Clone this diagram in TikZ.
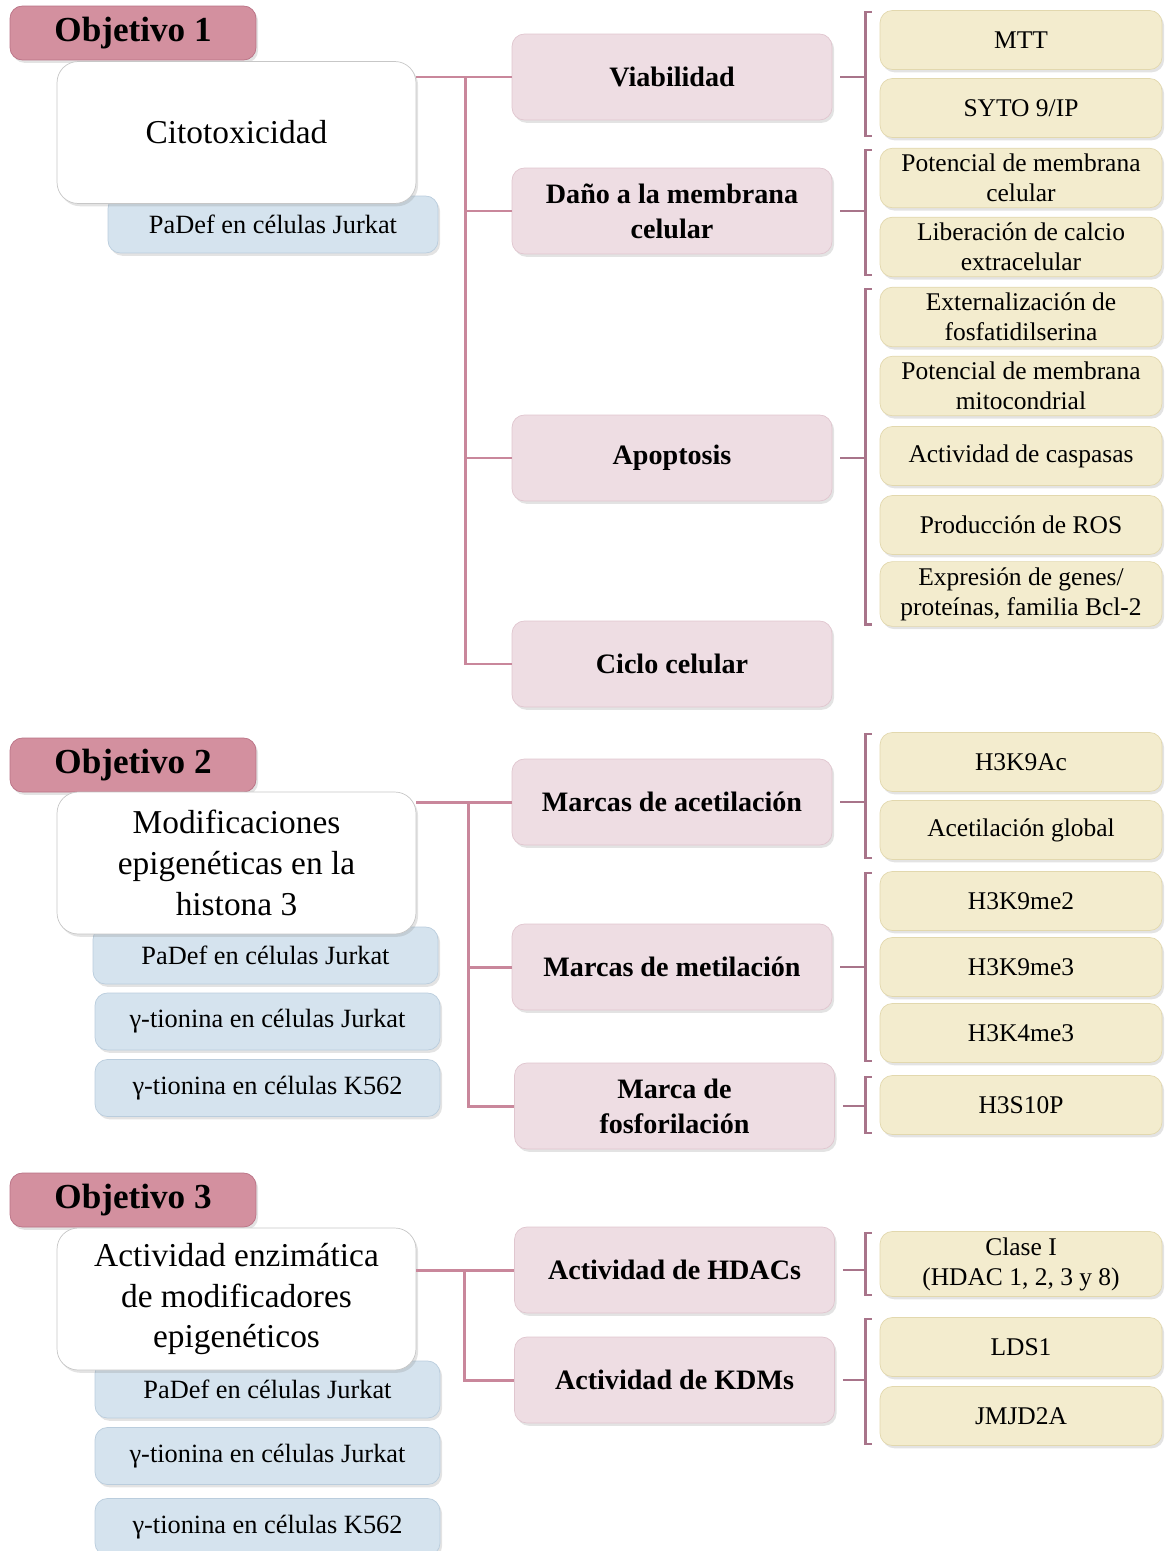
\documentclass[tikz,border=0pt]{standalone}
\usepackage{fontspec}
\setmainfont{Liberation Serif}
\usepackage{tikz}
\usetikzlibrary{calc, positioning, shadows}
\definecolor{OBJ}{HTML}{D3909F}
\definecolor{OBJB}{HTML}{B97285}
\definecolor{MET}{HTML}{EEDDE3}
\definecolor{METB}{HTML}{E0C6CF}
\definecolor{ENS}{HTML}{F3ECCE}
\definecolor{ENSB}{HTML}{E2D8AE}
\definecolor{MOD}{HTML}{D5E3EE}
\definecolor{MODB}{HTML}{BACDDD}
\definecolor{LNK}{HTML}{C9879B}
\definecolor{BRK}{HTML}{A8748A}
\tikzset{
  base/.style={% common look of every box
      rectangle, rounded corners=7pt,
      align=center,
      drop shadow={shadow xshift=1.2pt, shadow yshift=-1.6pt, opacity=0.22},
  },
  OBJ/.style={% Style for the objective labels
      base, fill=OBJ, draw=OBJB,
      minimum width=4.92cm, minimum height=1.08cm,
      font=\fontsize{20}{24}\selectfont\bfseries,
  },
  CEN/.style={% Style for the white main boxes
      base, rounded corners=12pt, fill=white, draw=black!22,
      minimum width=7.18cm, minimum height=2.84cm,
      font=\fontsize{19}{23.3}\selectfont,
  },
  MOD/.style={% Style for the model boxes (blue)
      base, fill=MOD, draw=MODB,
      minimum width=6.9cm, minimum height=1.14cm,
      font=\fontsize{15}{18}\selectfont,
  },
  MET/.style={% Style for the second level (pink)
      base, fill=MET, draw=METB,
      minimum width=6.4cm, minimum height=1.72cm,
      font=\fontsize{16}{20}\selectfont\bfseries,
  },
  ENS/.style={% Style for the assays (cream)
      base, fill=ENS, draw=ENSB,
      minimum width=5.64cm, minimum height=1.18cm,
      font=\fontsize{14.5}{17}\selectfont,
  },
  LNK/.style={draw=LNK, line width=1.7pt},
  BRK/.style={draw=BRK, line width=1.5pt},
}
\def\grupo#1#2#3{% parent box, first and last assay of its bracket
  \draw[BRK] ($(#1.east)+(8,0)$) -- ($(#1.east -| #2.west)+(-14,0)$);
  \draw[BRK] ($(#2.north west)+(-8,2)$) -- ($(#2.north west)+(-14,2)$)
    -- ($(#3.south west)+(-14,-2)$) -- ($(#3.south west)+(-8,-2)$);
}

\begin{document}
\begin{tikzpicture}[x=0.02cm, y=-0.02cm]
\useasboundingbox (0,0) rectangle (1164,1551);

% Objetivo 1
\node[OBJ] (obj1) at (133,33) {Objetivo 1};
\node[MOD, minimum width=6.6cm] (padef1) at (273,224.5) {PaDef en células Jurkat};
\node[CEN] (cito) at (236.5,132.5) {Citotoxicidad};
\node[MET] (viab) at (672,77) {Viabilidad};
\node[MET] (dano) at (672,211) {Daño a la membrana\\celular};
\node[MET] (apop) at (672,458) {Apoptosis};
\node[MET] (ciclo) at (672,664) {Ciclo celular};
\node[ENS] (mtt) at (1021,40) {MTT};
\node[ENS] (syto) at (1021,108) {SYTO 9/IP};
\node[ENS] (pmc) at (1021,178) {Potencial de membrana\\celular};
\node[ENS] (calc) at (1021,247) {Liberación de calcio\\extracelular};
\node[ENS] (fos) at (1021,317) {Externalización de\\fosfatidilserina};
\node[ENS] (pmm) at (1021,386) {Potencial de membrana\\mitocondrial};
\node[ENS] (casp) at (1021,456) {Actividad de caspasas};
\node[ENS] (ros) at (1021,525) {Producción de ROS};
\node[ENS, minimum height=1.22cm] (bcl) at (1021,594) {Expresión de genes/\\proteínas, familia Bcl-2};

\draw[LNK] (cito.east |- viab.west) -- (viab.west);
\coordinate (t1) at ($(cito.east |- viab.west)+(49,0)$);
\foreach \n in {dano,apop,ciclo} \draw[LNK] (t1) |- (\n.west);
\grupo{viab}{mtt}{syto}
\grupo{dano}{pmc}{calc}
\grupo{apop}{fos}{bcl}

% Objetivo 2
\node[OBJ] (obj2) at (133,765) {Objetivo 2};
\node[MOD] (padef2) at (265.5,955.5) {PaDef en células Jurkat};
\node[MOD] (gjur2) at (267.5,1021.5) {γ-tionina en células Jurkat};
\node[MOD] (gk2) at (267.5,1088) {γ-tionina en células K562};
\node[CEN] (modif) at (236.5,863) {Modificaciones\\epigenéticas en la\\histona 3};
\node[MET] (acet) at (672,802) {Marcas de acetilación};
\node[MET] (meti) at (672,967) {Marcas de metilación};
\node[MET] (fosf) at (674.5,1106) {Marca de\\fosforilación};
\node[ENS] (k9ac) at (1021,762) {H3K9Ac};
\node[ENS] (acglob) at (1021,830) {Acetilación global};
\node[ENS] (k9me2) at (1021,901) {H3K9me2};
\node[ENS] (k9me3) at (1021,967) {H3K9me3};
\node[ENS] (k4me3) at (1021,1033) {H3K4me3};
\node[ENS] (s10p) at (1021,1105) {H3S10P};

\draw[LNK] (modif.east |- acet.west) -- (acet.west);
\coordinate (t2) at ($(modif.east |- acet.west)+(52,0)$);
\foreach \n in {meti,fosf} \draw[LNK] (t2) |- (\n.west);
\grupo{acet}{k9ac}{acglob}
\grupo{meti}{k9me2}{k4me3}
\grupo{fosf}{s10p}{s10p}

% Objetivo 3
\node[OBJ] (obj3) at (133,1200) {Objetivo 3};
\node[MOD] (padef3) at (267.5,1389.5) {PaDef en células Jurkat};
\node[MOD] (gjur3) at (267.5,1456) {γ-tionina en células Jurkat};
\node[MOD] (gk3) at (267.5,1527) {γ-tionina en células K562};
\node[CEN] (enz) at (236.5,1299) {Actividad enzimática\\de modificadores\\epigenéticos};
\node[MET] (hdac) at (674.5,1270) {Actividad de HDACs};
\node[MET] (kdm) at (674.5,1380) {Actividad de KDMs};
\node[ENS, minimum height=1.3cm] (clase) at (1021,1264) {Clase I\\(HDAC 1, 2, 3 y 8)};
\node[ENS] (lds) at (1021,1347) {LDS1};
\node[ENS] (jmjd) at (1021,1416) {JMJD2A};

\draw[LNK] (enz.east |- hdac.west) -- (hdac.west);
\coordinate (t3) at ($(enz.east |- hdac.west)+(48,0)$);
\draw[LNK] (t3) |- (kdm.west);
\grupo{hdac}{clase}{clase}
\grupo{kdm}{lds}{jmjd}
\end{tikzpicture}
\end{document}
